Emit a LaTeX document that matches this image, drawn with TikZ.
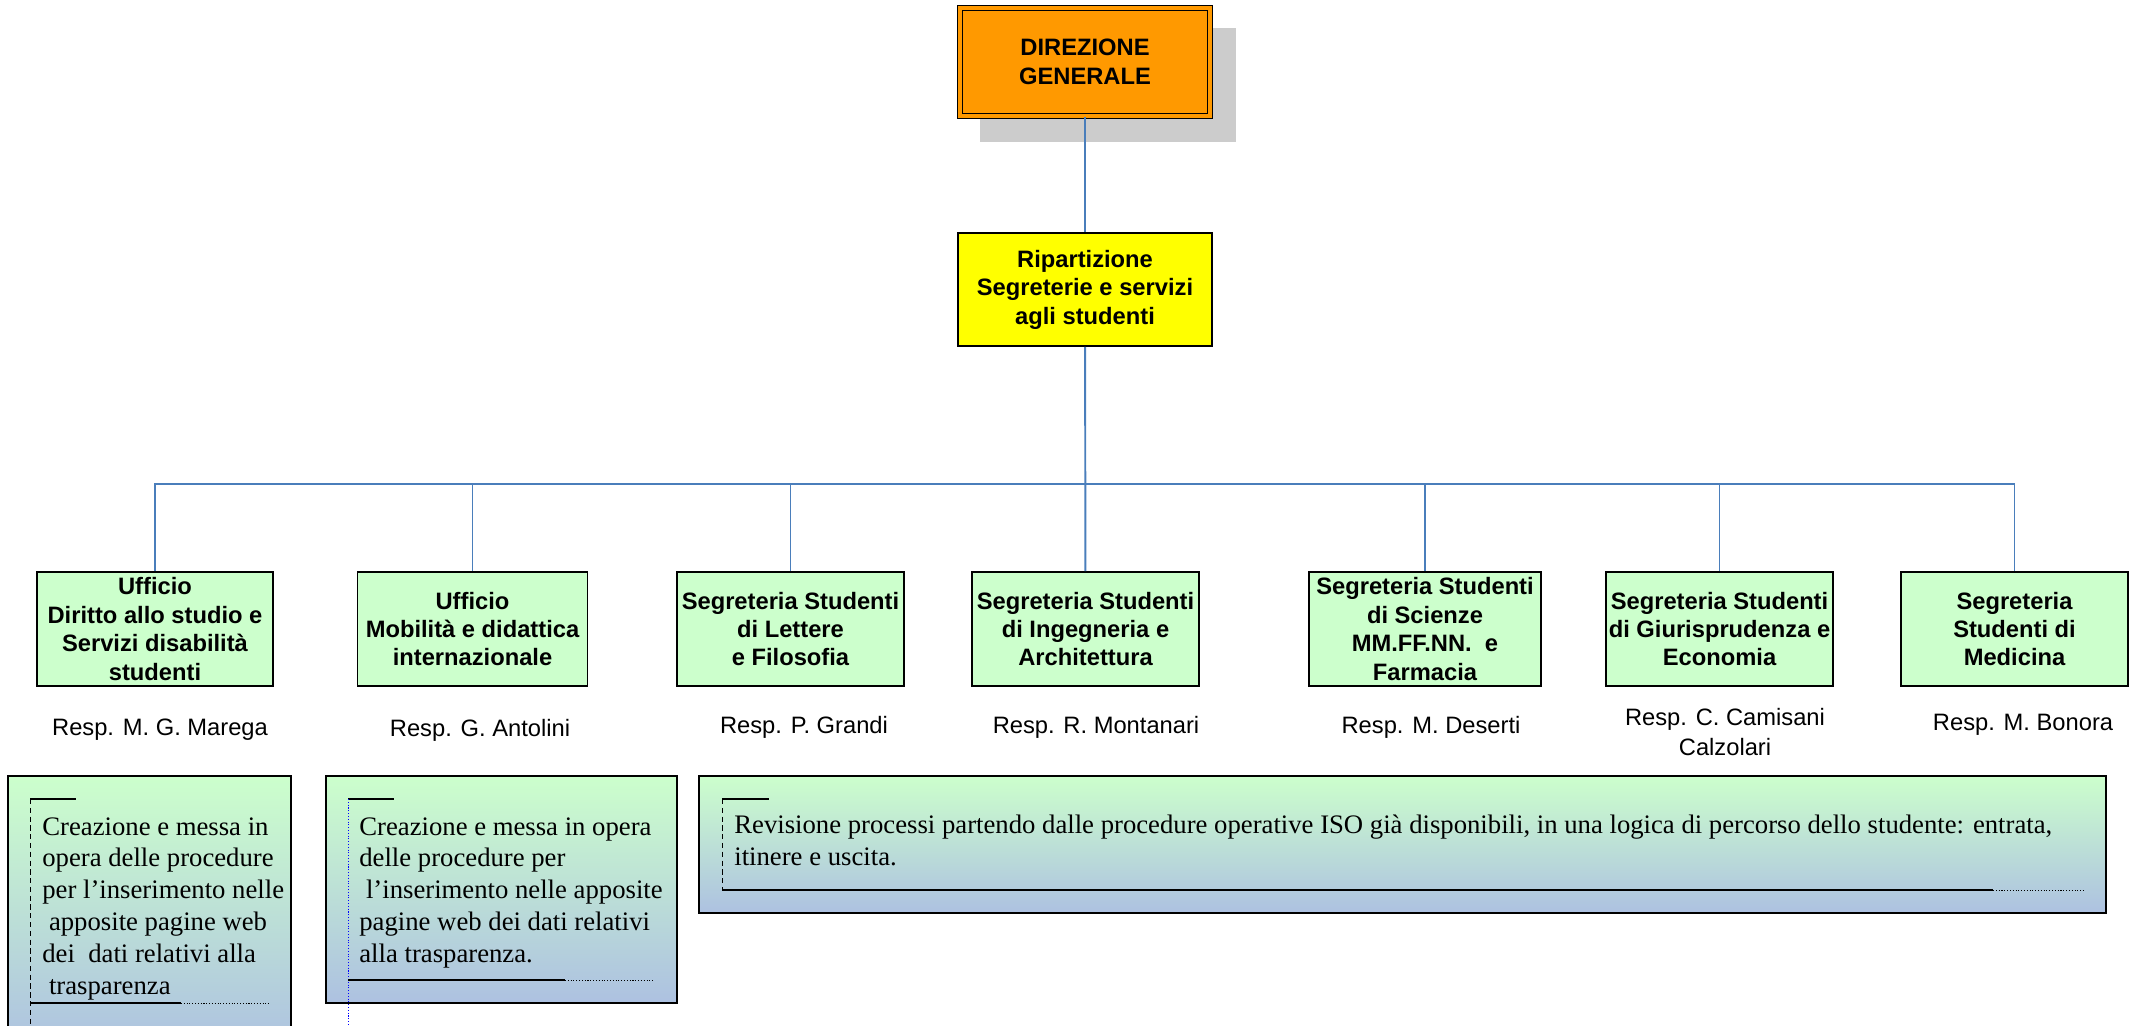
\documentclass[tikz,border=0pt]{standalone}
\usepackage{fontspec}
\setmainfont{Liberation Serif}
\setsansfont{Liberation Sans}
\usetikzlibrary{calc}
\definecolor{dirorange}{HTML}{FF9900}
\definecolor{ripyellow}{HTML}{FFFF00}
\definecolor{boxgreen}{HTML}{CCFFCC}
\definecolor{linkblue}{HTML}{4A7EBB}
\definecolor{shadowgray}{HTML}{CCCCCC}
\definecolor{notegreen}{HTML}{CCFFCC}
\definecolor{noteblue}{HTML}{ADC1E1}
\tikzset{
	ufficio/.style={draw=black, line width=1pt, fill=boxgreen, inner sep=0pt, minimum width=4.54cm, minimum height=2.28cm, align=center, font=\sffamily\bfseries\fontsize{13.5}{16.2}\selectfont},
	link/.style={draw=linkblue, line width=1.1pt},
	resp/.style={inner sep=0pt, align=center, font=\sffamily\fontsize{13.5}{17}\selectfont},
	notebox/.style={draw=black, line width=1.4pt, top color=notegreen, bottom color=noteblue},
	notetext/.style={anchor=north west, inner sep=0pt, align=left, font=\rmfamily\fontsize{15.2}{18.1}\selectfont},
	framemark/.style={line width=0.6pt}
}

\begin{document}
\begin{tikzpicture}[x=0.02cm, y=-0.02cm]
			%%%%% PAGE %%%%%
			\useasboundingbox (0, 0) rectangle (2139, 1025);
			\clip (0, 0) rectangle (2139, 1025);
			
			%%%%% TOP %%%%%
			\fill[shadowgray] (979.5, 27.5) rectangle (1235.5, 141.5);
			\node[draw=black, line width=1pt, double=dirorange, double distance=1.8pt, fill=dirorange, inner sep=0pt, minimum width=5cm, minimum height=2.16cm, align=center, font=\sffamily\bfseries\fontsize{13.5}{16.2}\selectfont] (dir) at (1085, 62) {DIREZIONE\\GENERALE};
			
			\node[draw=black, line width=1pt, fill=ripyellow, inner sep=0pt, minimum width=5.08cm, minimum height=2.26cm, align=center, font=\sffamily\bfseries\fontsize{13.5}{16.2}\selectfont] (rip) at (1085, 289.5) {Ripartizione\\Segreterie e servizi\\agli studenti};
			
			%%%%% UFFICI %%%%%
			\node[ufficio, minimum width=4.72cm] (uffDiritto) at (155, 629) {Ufficio\\Diritto allo studio e\\Servizi disabilità\\studenti};
			\node[ufficio, minimum width=4.6cm] (uffMobilita) at (472.5, 629) {Ufficio\\Mobilità e didattica\\internazionale};
			\node[ufficio] (segLettere) at (790.5, 629) {Segreteria Studenti\\di Lettere\\e Filosofia};
			\node[ufficio] (segIngegneria) at (1085.5, 629) {Segreteria Studenti\\di Ingegneria e\\Architettura};
			\node[ufficio, minimum width=4.65cm] (segScienze) at (1425, 629) {Segreteria Studenti\\di Scienze\\MM.FF.NN.\ \ e\\Farmacia};
			\node[ufficio] (segGiuris) at (1719.5, 629) {Segreteria Studenti\\di Giurisprudenza e\\Economia};
			\node[ufficio] (segMedicina) at (2014.5, 629) {Segreteria\\Studenti di\\Medicina};
			
			%%%%% LINKS %%%%%
			\coordinate (bus) at (1085, 484);
			\draw[link] (dir) -- (rip);
			\draw[link] (rip) -- (segIngegneria);
			\draw[link] (uffDiritto.north) |- (bus);
			\draw[link] (uffMobilita.north) |- (bus);
			\draw[link] (segLettere.north) |- (bus);
			\draw[link] (segScienze.north) |- (bus);
			\draw[link] (segGiuris.north) |- (bus);
			\draw[link] (segMedicina.north) |- (bus);
			
			%%%%% RESP %%%%%
			\node[resp] (respMarega) at (160, 730) {Resp. M. G. Marega};
			\node[resp] (respAntolini) at (480, 730) {Resp. G. Antolini};
			\node[resp] (respGrandi) at (804, 727) {Resp. P. Grandi};
			\node[resp] (respMontanari) at (1096, 727) {Resp. R. Montanari};
			\node[resp] (respDeserti) at (1431, 727) {Resp. M. Deserti};
			\node[resp] (respCamisani) at (1725, 732) {Resp. C. Camisani\\Calzolari};
			\node[resp] (respBonora) at (2023, 725) {Resp. M. Bonora};
			
			%%%%% NOTES %%%%%
			\draw[notebox] (8, 776) rectangle (291, 1050);
			\draw[framemark] (30, 799) -- (76, 799);
			\draw[framemark, densely dashed, line width=0.4pt] (30, 799) -- (30, 1025);
			\draw[framemark] (30, 1003) -- (181, 1003);
			\draw[framemark, densely dotted, line width=0.4pt] (181, 1003) -- (269, 1003);
			\node[notetext] (noteDiritto) at (42, 817) {Creazione e messa in\\opera delle procedure\\per l’inserimento nelle\\\hspace*{0.25em}apposite pagine web\\dei\ \ dati relativi alla\\\hspace*{0.25em}trasparenza};
			
			\draw[notebox] (326, 776) rectangle (677, 1003);
			\draw[framemark] (348, 799) -- (394, 799);
			\draw[framemark, densely dotted, line width=0.5pt, blue] (348, 799) -- (348, 1025);
			\draw[framemark] (348, 980) -- (565, 980);
			\draw[framemark, densely dotted, line width=0.4pt] (565, 980) -- (654, 980);
			\node[notetext] (noteMobilita) at (359, 817) {Creazione e messa in opera\\delle procedure per\\\hspace*{0.25em}l’inserimento nelle apposite\\pagine web dei dati relativi\\alla trasparenza.};
			
			\draw[notebox] (699, 776) rectangle (2106, 913);
			\draw[framemark] (722, 799) -- (769, 799);
			\draw[framemark, densely dashed, line width=0.4pt] (722, 799) -- (722, 890);
			\draw[framemark] (722, 890) -- (1993, 890);
			\draw[framemark, densely dotted, line width=0.4pt] (1993, 890) -- (2083, 890);
			\node[notetext] (noteSegreterie) at (734, 815) {Revisione processi partendo dalle procedure operative ISO già disponibili, in una logica di percorso dello studente: entrata,\\itinere e uscita.};
			
			%%%%% END %%%%%
		\end{tikzpicture}
\end{document}
